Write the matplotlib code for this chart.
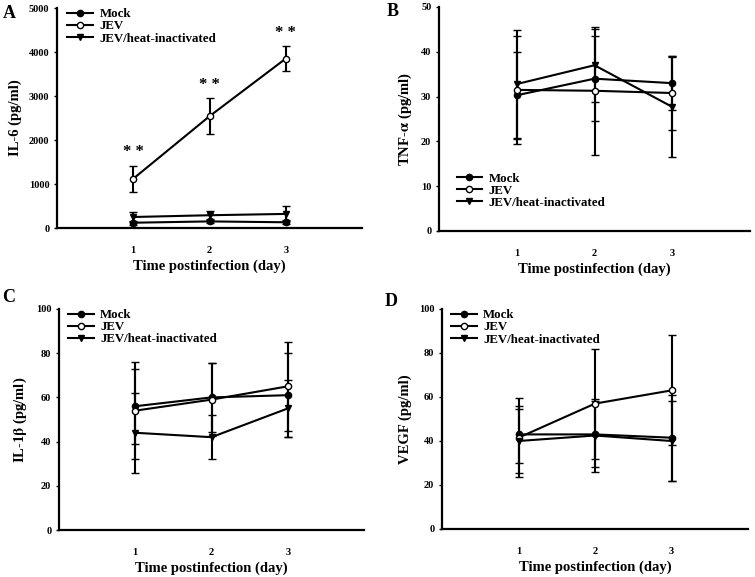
import matplotlib.pyplot as plt
from matplotlib.lines import Line2D

plt.rcParams['font.family'] = ['Liberation Serif', 'DejaVu Serif']
plt.rcParams['font.weight'] = 'bold'
plt.rcParams['mathtext.fontset'] = 'stix'

days = [1, 2, 3]
series = ['Mock', 'JEV', 'JEV/heat-inactivated']

# IL-6 (pg/ml)
il6_mean = {'Mock': [120, 150, 130], 'JEV': [1120, 2540, 3850], 'JEV/heat-inactivated': [250, 290, 320]}
il6_err = {'Mock': [50, 45, 50], 'JEV': [300, 410, 285], 'JEV/heat-inactivated': [110, 100, 170]}

# TNF-alpha (pg/ml)
tnf_mean = {'Mock': [30.3, 34.0, 33.0], 'JEV': [31.5, 31.3, 30.8], 'JEV/heat-inactivated': [32.8, 37.0, 27.7]}
tnf_err = {'Mock': [9.7, 9.5, 6.0], 'JEV': [12.0, 14.3, 8.2], 'JEV/heat-inactivated': [12.0, 8.2, 11.2]}

# IL-1beta (pg/ml)
il1b_mean = {'Mock': [56, 60, 61], 'JEV': [54, 59, 65], 'JEV/heat-inactivated': [44, 42, 55]}
il1b_err = {'Mock': [17, 15.5, 19], 'JEV': [22, 16.5, 20], 'JEV/heat-inactivated': [18, 10, 13]}

# VEGF (pg/ml)
vegf_mean = {'Mock': [43, 43, 41.5], 'JEV': [41.5, 57, 63], 'JEV/heat-inactivated': [40, 42.5, 40]}
vegf_err = {'Mock': [13, 15, 19.5], 'JEV': [18, 25, 25], 'JEV/heat-inactivated': [14.5, 16.5, 18]}

styles = {
    'Mock': dict(marker='o', mfc='black'),
    'JEV': dict(marker='o', mfc='white'),
    'JEV/heat-inactivated': dict(marker='v', mfc='black'),
}

W, H = 755, 577

# letter, means, errors, y label, y max, y step, axes box (px: left, top, right, bottom), legend anchor, letter pos (px)
panels = [
    ('A', il6_mean, il6_err, 'IL-6 (pg/ml)', 5000, 1000, (57, 8, 362, 228), (0.025, 1.01), (3, 13)),
    ('B', tnf_mean, tnf_err, r'TNF-$\mathbf{\alpha}$ (pg/ml)', 50, 10, (439, 7, 750, 231), (0.048, 0.272), (387, 12)),
    ('C', il1b_mean, il1b_err, r'IL-1$\mathbf{\beta}$ (pg/ml)', 100, 20, (59, 309, 364, 530), (0.02, 1.01), (2, 298)),
    ('D', vegf_mean, vegf_err, 'VEGF (pg/ml)', 100, 20, (442, 309, 748, 529), (0.02, 1.01), (385, 302)),
]

fig = plt.figure(figsize=(7.55, 5.77), dpi=100)

for letter, means, errs, ylabel, ymax, ystep, box, legpos, lpos in panels:
    l, t, r, b = box
    ax = fig.add_axes([l / W, 1 - b / H, (r - l) / W, (b - t) / H])
    handles = []
    for s in series:
        ax.errorbar(days, means[s], yerr=errs[s], color='black', lw=1.5,
                    elinewidth=1.5, capsize=3, capthick=1.5, ms=4.5,
                    mec='black', mew=1.0, **styles[s])
        handles.append(Line2D([], [], color='black', lw=1.5, ms=4.5, mec='black',
                              mew=1.0, label=s, **styles[s]))
    ax.set_xlim(0, 4)
    ax.set_ylim(0, ymax)
    ax.set_xticks(days)
    ax.set_yticks(range(0, ymax + 1, ystep))
    for sp in ['top', 'right']:
        ax.spines[sp].set_visible(False)
    for sp in ['left', 'bottom']:
        ax.spines[sp].set_linewidth(1.6)
    ax.tick_params(axis='both', labelsize=7.5, width=1.0, length=2)
    ax.tick_params(axis='x', length=0, pad=13)
    ax.set_xlabel('Time postinfection (day)', fontsize=10.5, fontweight='bold', labelpad=3)
    ax.set_ylabel(ylabel, fontsize=10.5, fontweight='bold', labelpad=5)
    ax.legend(handles=handles, loc='upper left', bbox_to_anchor=legpos, frameon=False,
              fontsize=9.3, handlelength=2.0, handletextpad=0.5, labelspacing=0.0,
              borderaxespad=0.0, borderpad=0.2)
    fig.text(lpos[0] / W, 1 - lpos[1] / H, letter, fontsize=13, fontweight='bold',
             ha='left', va='center')

    if letter == 'A':
        for d, m, e in zip(days, means['JEV'], errs['JEV']):
            ax.text(d, m + e + 120, '* *', ha='center', va='bottom', fontsize=12)

fig.savefig('out.png', dpi=100)
